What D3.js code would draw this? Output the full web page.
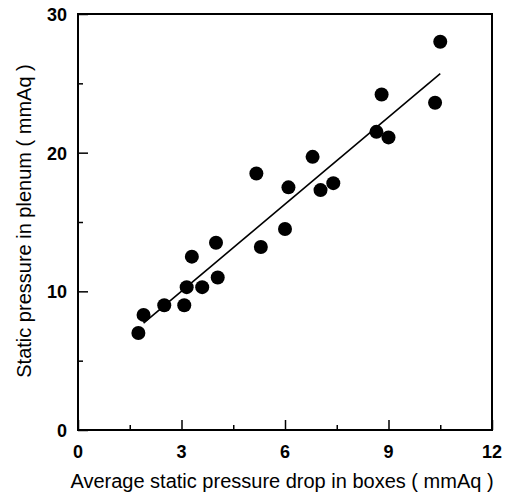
<!DOCTYPE html>
<html>
<head>
<meta charset="utf-8">
<script src="https://cdn.jsdelivr.net/npm/d3@7"></script>
<style>
  body { margin: 0; background: #fff; }
  svg { display: block; }
  text { font-family: "Liberation Sans", Arial, sans-serif; fill: #000; }
</style>
</head>
<body>
<svg width="511" height="498"></svg>
<script>
// Measured points
var boxDrop = [1.75, 1.9, 2.5, 3.08, 3.15, 3.3, 3.6, 4.0, 4.05, 5.17, 5.3, 6.0, 6.1, 6.8, 7.03, 7.4, 8.65, 8.8, 9.0, 10.35, 10.5]
var plenum = [7.0, 8.3, 9.0, 9.0, 10.3, 12.5, 10.3, 13.5, 11.0, 18.5, 13.2, 14.5, 17.5, 19.7, 17.3, 17.8, 21.5, 24.2, 21.1, 23.6, 28.0]

// Regression line end points
var fitX = [1.9, 10.5]
var fitY = [7.7, 25.7]

// Ticks
var xTicks = [0, 3, 6, 9, 12]
var xMinor = [1.5, 4.5, 7.5, 10.5]
var yTicks = [0, 10, 20, 30]
var yMinor = [5, 15, 25]

var svg = d3.select('svg'),
  plotLeft = 78,
  plotRight = 492,
  plotTop = 14,
  plotBottom = 430

var x = d3.scaleLinear().domain([0, 12]).range([plotLeft, plotRight])
var y = d3.scaleLinear().domain([0, 30]).range([plotBottom, plotTop])

// Frame
svg
  .append('rect')
  .attr('x', plotLeft)
  .attr('y', plotTop)
  .attr('width', plotRight - plotLeft)
  .attr('height', plotBottom - plotTop)
  .attr('fill', 'none')
  .attr('stroke', '#000')
  .attr('stroke-width', 2)

// Axes with inward ticks
svg
  .append('g')
  .attr('transform', 'translate(0,' + plotBottom + ')')
  .call(d3.axisTop(x).tickValues(xTicks).tickSize(10).tickFormat(''))
svg
  .append('g')
  .attr('transform', 'translate(0,' + plotBottom + ')')
  .call(d3.axisTop(x).tickValues(xMinor).tickSize(5).tickFormat(''))
svg
  .append('g')
  .attr('transform', 'translate(' + plotLeft + ',0)')
  .call(d3.axisRight(y).tickValues(yTicks).tickSize(10).tickFormat(''))
svg
  .append('g')
  .attr('transform', 'translate(' + plotLeft + ',0)')
  .call(d3.axisRight(y).tickValues(yMinor).tickSize(5).tickFormat(''))
svg.selectAll('.domain').remove()
svg.selectAll('.tick line').attr('stroke', '#000').attr('stroke-width', 1.5)

// Tick labels
svg
  .selectAll('.xlab')
  .data(xTicks)
  .enter()
  .append('text')
  .attr('x', function(d) { return x(d) })
  .attr('y', 458)
  .attr('text-anchor', 'middle')
  .style('font-size', '18px')
  .style('font-weight', 'bold')
  .text(function(d) { return d })
svg
  .selectAll('.ylab')
  .data(yTicks)
  .enter()
  .append('text')
  .attr('x', 67)
  .attr('y', function(d) { return y(d) + 7 })
  .attr('text-anchor', 'end')
  .style('font-size', '18px')
  .style('font-weight', 'bold')
  .text(function(d) { return d })

// Axis titles
svg
  .append('text')
  .attr('x', 282)
  .attr('y', 488)
  .attr('text-anchor', 'middle')
  .style('font-size', '20px')
  .text('Average static pressure drop in boxes ( mmAq )')
svg
  .append('text')
  .attr('transform', 'translate(31,221) rotate(-90)')
  .attr('text-anchor', 'middle')
  .style('font-size', '20px')
  .text('Static pressure in plenum ( mmAq )')

// Fit line
var line = d3
  .line()
  .x(function(d) { return x(d[0]) })
  .y(function(d) { return y(d[1]) })
svg
  .append('path')
  .datum(d3.zip(fitX, fitY))
  .attr('d', line)
  .attr('fill', 'none')
  .attr('stroke', '#000')
  .attr('stroke-width', 1.6)

// Points
svg
  .append('g')
  .selectAll('circle')
  .data(d3.zip(boxDrop, plenum))
  .enter()
  .append('circle')
  .attr('cx', function(d) { return x(d[0]) })
  .attr('cy', function(d) { return y(d[1]) })
  .attr('r', 7)
  .attr('fill', '#000')
</script>
</body>
</html>
